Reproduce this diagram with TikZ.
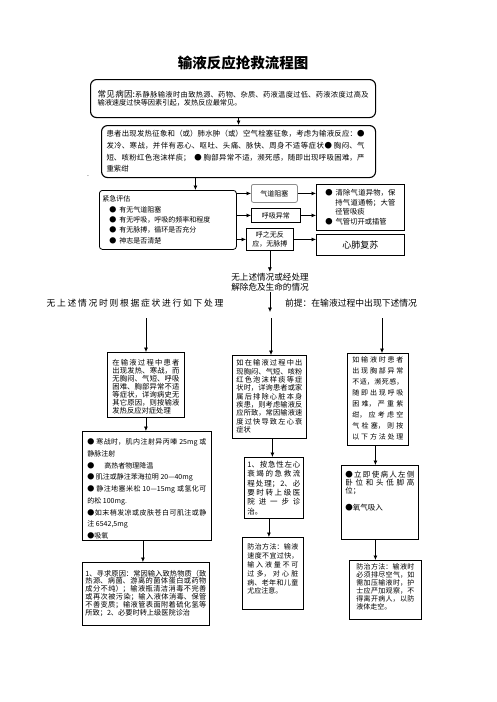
\documentclass[tikz,border=0pt]{standalone}
\usepackage{fontspec}
\setmainfont{Noto Sans CJK SC}
\usetikzlibrary{arrows.meta}
\XeTeXlinebreaklocale "zh"
\XeTeXlinebreakskip=0pt plus 1pt
\tolerance=9999
\newcommand{\boxtxt}[3]{\parbox[t][#2][t]{#1}{#3}}

\begin{document}
\begin{tikzpicture}[x=1pt, y=-1pt,
    box/.style={draw, line width=0.8pt, anchor=north west, inner sep=3pt},
    rbox/.style={box, rounded corners=6pt, line width=1.1pt},
    lbl/.style={draw, line width=0.8pt, anchor=north west, inner sep=0pt, align=center, font=\fontsize{7}{8.5}\selectfont},
    arr/.style={-{Latex[length=4.5pt,width=4pt]}, line width=0.7pt}]

  \fill[white] (0,0) rectangle (496,702);
  \useasboundingbox (0,0) rectangle (496,702);

  \node[font=\fontsize{14.5}{16}\selectfont\bfseries] (title) at (243,63) {输液反应抢救流程图};

  \node[rbox, minimum height=38pt, inner xsep=7pt, inner ysep=0pt, font=\fontsize{7.2}{8.3}\selectfont] (cause) at (90,79)
    {\parbox{271pt}{{\fontsize{8.5}{8.3}\selectfont 常见病因:}系静脉输液时由致热源、药物、杂质、药液温度过低、药液浓度过高及\linebreak
    输液速度过快等因素引起，发热反应最常见。}};

  \node[rbox, minimum height=52pt, inner xsep=5pt, inner ysep=0pt, font=\fontsize{7.4}{11.7}\selectfont] (sign) at (101,125)
    {\parbox{264pt}{\rightskip=6pt 患者出现发热征象和（或）肺水肿（或）空气栓塞征象，考虑为输液反应：●\linebreak
    发冷、寒战，并伴有恶心、呕吐、头痛、脉快、周身不适等症状● 胸闷、气\linebreak
    短、咳粉红色泡沫样痰；\ \ ● 胸部异常不适，濒死感，随即出现呼吸困难，严\linebreak
    重紫绀}};

  \node[font=\fontsize{7}{8}\selectfont, inner sep=0pt] (dot) at (88,176) {.};

  \node[box, rounded corners=3pt, minimum height=59pt, inner xsep=3pt, inner ysep=0pt, font=\fontsize{7}{10.3}\selectfont] (emerg) at (99,190)
    {\parbox{131pt}{紧急评估\\
    \hspace*{7pt}●\hspace{3pt}有无气道阻塞\\
    \hspace*{7pt}●\hspace{3pt}有无呼吸，呼吸的频率和程度\\
    \hspace*{7pt}●\hspace{3pt}有无脉搏，循环是否充分\\
    \hspace*{7pt}●\hspace{3pt}神志是否清楚}};

  \node[lbl, draw=black!45, rounded corners=2pt, minimum width=46pt, minimum height=18pt] (qd) at (251,184) {气道阻塞};
  \node[lbl, minimum width=49pt, minimum height=14pt] (hx) at (251,208) {呼吸异常};
  \node[lbl, minimum width=47pt, minimum height=22pt] (hz) at (246,228) {呼之无反\\应，无脉搏};

  \node[box, minimum height=46pt, inner xsep=9pt, inner ysep=0pt, font=\fontsize{7.3}{9.6}\selectfont] (clear) at (316,184)
    {\parbox{70pt}{\hangindent=10pt\hangafter=1 ●\hspace{3pt}清除气道异物，保\linebreak
    持气道通畅；大管\linebreak
    径管吸痰\par
    ●\hspace{3pt}气管切开或插管}};
  \node[lbl, minimum width=88pt, minimum height=21pt, font=\fontsize{9}{10}\selectfont] (cpr) at (316,234) {心肺复苏};

  \node[align=center, inner sep=1pt, font=\fontsize{8.6}{10}\selectfont] (mid) at (270,282) {无上述情况或经处理\\解除危及生命的情况};
  \node[font=\fontsize{8.8}{10}\selectfont] (lnote) at (135,303) {\parbox{177pt}{\parfillskip=0pt 无上述情况时则根据症状进行如下处理}};
  \node[font=\fontsize{8.8}{10}\selectfont] (rnote) at (351,303) {前提：在输液过程中出现下述情况};

  \coordinate (midend) at (270,312);
  \coordinate (c1) at (146,318);
  \coordinate (c2) at (271,318);
  \coordinate (c3) at (382,318);

  % left column
  \node[box, inner xsep=5pt, inner ysep=6.5pt, font=\fontsize{7.3}{8}\selectfont] (L1) at (107,352)
    {\boxtxt{67pt}{52pt}{在输液过程中患者\linebreak
    出现发热、寒战，而\linebreak
    无胸闷、气短、呼吸\linebreak
    困难、胸部异常不适\linebreak
    等症状，详询病史无\linebreak
    其它原因，则按输液\linebreak
    发热反应对症处理}};
  \node[box, inner xsep=5pt, inner ysep=7.5pt, font=\fontsize{7}{11.7}\selectfont] (L2) at (82,431)
    {\boxtxt{119pt}{94pt}{● 寒战时，肌内注射异丙嗪 25mg 或\linebreak
    静脉注射\\
    ●\hspace{10pt}高热者物理降温\\
    ● 肌注或静注苯海拉明 20—40mg\\
    ● 静注地塞米松 10—15mg 或氢化可\linebreak
    的松 100mg.\\
    ●如末梢发凉或皮肤苍白可肌注或静\linebreak
    注 6542,5mg\\
    ●吸氧}};
  \node[box, inner xsep=3pt, inner ysep=7.5pt, font=\fontsize{7.2}{7.8}\selectfont] (L3) at (82,562)
    {\boxtxt{121pt}{48pt}{1、寻求原因：常因输入致热物质（致\linebreak
    热源、病菌、游离的菌体蛋白或药物\linebreak
    成分不纯）；输液瓶清洁消毒不完善\linebreak
    或再次被污染；输入液体消毒、保管\linebreak
    不善变质；输液管表面附着硫化氢等\linebreak
    所致；2、必要时转上级医院诊治}};

  % middle column
  \node[box, inner xsep=4pt, inner ysep=4.5pt, font=\fontsize{7.2}{8.3}\selectfont] (M1) at (232,355)
    {\boxtxt{66pt}{74pt}{如在输液过程中出\linebreak
    现胸闷、气短、咳粉\linebreak
    红色泡沫样痰等症\linebreak
    状时，详询患者或家\linebreak
    属后排除心脏本身\linebreak
    疾患，则考虑输液反\linebreak
    应所致，常因输液速\linebreak
    度过快导致左心衰\linebreak
    症状}};
  \node[box, inner xsep=3pt, inner ysep=3.5pt, font=\fontsize{7.5}{9.4}\selectfont] (M2) at (244,457)
    {\boxtxt{53pt}{54pt}{1、按急性左心\linebreak
    衰竭的急救流\linebreak
    程处理；2、必\linebreak
    要时转上级医\linebreak
    院进一步诊\linebreak
    治。}};
  \node[box, inner xsep=5pt, inner ysep=6.5pt, font=\fontsize{7}{8.8}\selectfont] (M3) at (242,537)
    {\boxtxt{51pt}{59pt}{防治方法：输液\linebreak
    速度不宜过快，\linebreak
    输入液量不可\linebreak
    过多，对心脏\linebreak
    病、老年和儿童\linebreak
    尤应注意。}};

  % right column
  \node[box, inner xsep=5pt, inner ysep=3.5pt, font=\fontsize{7}{10.9}\selectfont] (R1) at (347,353)
    {\boxtxt{51pt}{85pt}{\parfillskip=0pt 如输液时患者\linebreak
    出现胸部异常\linebreak
    不适，濒死感，\linebreak
    随即出现呼吸\linebreak
    困难，严重紫\linebreak
    绀，应考虑空\linebreak
    气栓塞，则按\linebreak
    以下方法处理}};
  \node[box, inner xsep=4pt, inner ysep=5.5pt, font=\fontsize{7.5}{8.3}\selectfont] (R2) at (341,465)
    {\boxtxt{69pt}{63pt}{●立即使病人左侧\linebreak
    卧位和头低脚高\linebreak
    位；\\[8.3pt]
    ●氧气吸入}};
  \node[box, inner xsep=7pt, inner ysep=3.5pt, font=\fontsize{7}{8}\selectfont] (R3) at (349,560)
    {\boxtxt{58pt}{52pt}{防治方法：输液时\linebreak
    必须排尽空气，如\linebreak
    需加压输液时，护\linebreak
    士应严加观察，不\linebreak
    得离开病人，以防\linebreak
    液体走空。}};

  % connectors
  \draw[arr] (sign.north |- cause.south) -- (sign.north);
  \draw[arr] ([xshift=27.5pt]emerg.north |- sign.south) -- ([xshift=27.5pt]emerg.north);
  \draw[arr] (qd.west -| emerg.east) -- (qd.west);
  \draw[arr] (hx.west -| emerg.east) -- (hx.west);
  \draw[arr] (hz.west -| emerg.east) -- (hz.west);
  \draw[arr] (qd.east) -- (qd.east -| clear.west);
  \draw[arr] (hx.east) -- (hx.east -| clear.west);
  \draw[arr] (hz.east) -- (hz.east -| cpr.west);
  \draw[arr] (hz.south) -- (hz.south |- mid.north);
  \draw[arr] (mid.south) -- (midend);

  \draw[arr] (c1) -- (c1 |- L1.north);
  \draw[arr] (L1.south) -- (L1.south |- L2.north);
  \draw[arr] ([xshift=-4pt]L2.south) -- ([xshift=-4pt]L2.south |- L3.north);

  \draw[arr] (c2) -- (c2 |- M1.north);
  \draw[arr] ([xshift=3pt]M1.south) -- ([xshift=3pt]M1.south |- M2.north);
  \draw[arr] ([xshift=-5pt]M2.south) -- ([xshift=-5pt]M2.south |- M3.north);

  \draw[arr] (c3) -- (c3 |- R1.north);
  \draw[arr] ([xshift=-2.5pt]R1.south) -- ([xshift=-2.5pt]R1.south |- R2.north);
  \draw[arr] ([xshift=-4.5pt]R2.south) -- ([xshift=-4.5pt]R2.south |- R3.north);
\end{tikzpicture}
\end{document}
